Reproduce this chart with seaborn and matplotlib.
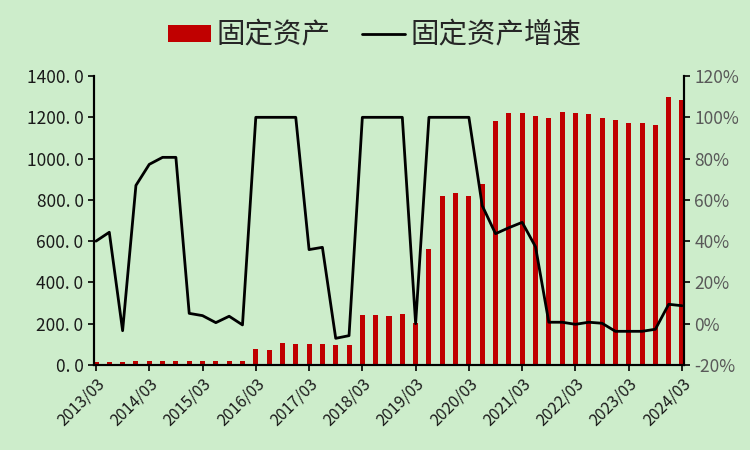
import matplotlib
matplotlib.use('Agg')
import matplotlib.pyplot as plt
import seaborn as sns
from matplotlib.patches import Patch
from matplotlib.lines import Line2D

# 季度标签 2013/03 - 2024/03
quarters = [f"{y}/{m:02d}" for y in range(2013, 2025) for m in (3, 6, 9, 12)][:45]

# 固定资产 (左轴)
fixed_assets = [12, 12, 12, 17, 17, 17, 17, 17, 17, 17, 17, 17,
                76, 71, 105, 100, 100, 100, 95, 95,
                241, 241, 236, 246, 205,
                560, 820, 835, 820, 878,
                1184, 1223, 1223, 1208, 1198, 1227, 1223, 1218, 1198, 1188,
                1174, 1174, 1164, 1300, 1285]

# 固定资产增速 % (右轴)
growth = [40, 44.3, -3.4, 67, 77.2, 80.6, 80.6, 5, 3.9, 0.5, 3.6, -0.6,
          100, 100, 100, 100, 35.9, 37, -7.1, -5.8,
          100, 100, 100, 100, 0,
          100, 100, 100, 100, 57.2,
          43.6, 46.5, 49.1, 37.3, 0.7, 0.7, -0.3, 0.7, 0.2, -3.7,
          -3.7, -3.7, -2.7, 9.4, 8.7]

left_ticks = [0, 200, 400, 600, 800, 1000, 1200, 1400]
right_ticks = [-20, 0, 20, 40, 60, 80, 100, 120]

bg = '#CDEDCB'
sns.set_style('ticks')
plt.rcParams['font.family'] = ['Noto Sans CJK SC', 'DejaVu Sans']

fig = plt.figure(figsize=(7.5, 4.5), dpi=100, facecolor=bg)
ax1 = fig.add_axes([0.1253, 0.189, 0.7867, 0.642])
ax1.set_facecolor(bg)

pos = list(range(len(quarters)))
sns.barplot(x=pos, y=fixed_assets, color='#C00000', width=0.38, saturation=1,
            linewidth=0, ax=ax1)

ax2 = ax1.twinx()
sns.lineplot(x=pos, y=growth, color='black', lw=2, ax=ax2)

ax1.set_xlim(-0.15, 44.15)
ax1.set_ylim(0, 1400)
ax2.set_ylim(-20, 120)

ax1.set_yticks(left_ticks)
ax1.set_yticklabels([f"{v:.1f}".replace('.', '. ') for v in left_ticks], fontsize=12.5, color='#1a1a1a')
ax2.set_yticks(right_ticks)
ax2.set_yticklabels([f"{v}%" for v in right_ticks], fontsize=12.5, color='#595959')

ax1.set_xticks(pos[::4])
ax1.set_xticklabels(quarters[::4], rotation=45, ha='right', rotation_mode='anchor', fontsize=11.5, color='#1a1a1a')

for ax in (ax1, ax2):
    ax.spines['top'].set_visible(False)
    for s in ('left', 'right', 'bottom'):
        ax.spines[s].set_color('black')
        ax.spines[s].set_linewidth(1.5)
    ax.tick_params(axis='both', direction='out', length=4, width=1.2, color='black')
    ax.set_xlabel('')
    ax.set_ylabel('')

handles = [Patch(facecolor='#C00000', edgecolor='none', label='固定资产'),
           Line2D([0], [0], color='black', lw=2, label='固定资产增速')]
fig.legend(handles=handles, loc='upper center', bbox_to_anchor=(0.5, 1.012), ncol=2,
           frameon=False, fontsize=20.5, handlelength=1.5, handletextpad=0.2,
           columnspacing=1.1, handleheight=0.55)

fig.savefig('out.png', dpi=100, facecolor=bg)
